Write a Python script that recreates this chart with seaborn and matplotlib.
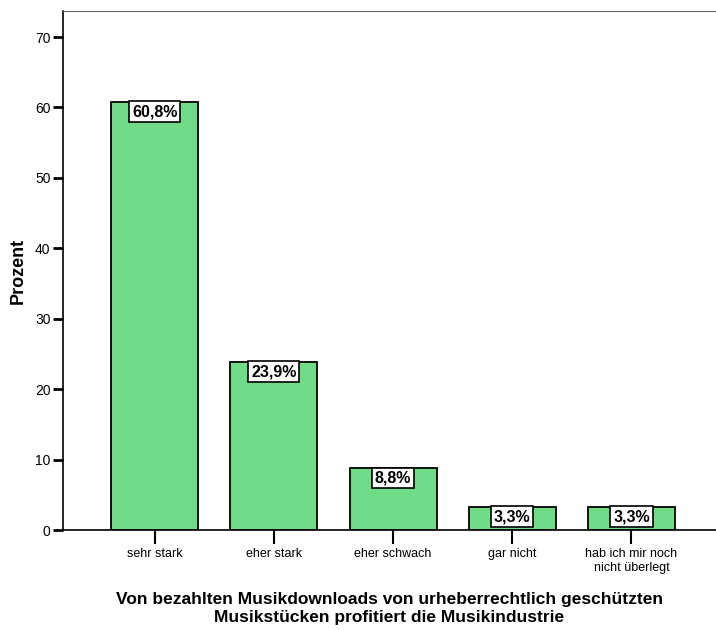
import pandas as pd
import matplotlib.pyplot as plt
import seaborn as sns

# -------------------------------
# Data
# -------------------------------

categories = [
    "sehr stark",
    "eher stark",
    "eher schwach",
    "gar nicht",
    "hab ich mir noch\nnicht überlegt",
]
percent = [60.8, 23.9, 8.8, 3.3, 3.3]
labels = ["60,8%", "23,9%", "8,8%", "3,3%", "3,3%"]

df = pd.DataFrame({"kategorie": categories, "prozent": percent})

# -------------------------------
# Plot
# -------------------------------

sns.set_style("white", {"text.color": "black", "axes.labelcolor": "black",
                        "xtick.color": "black", "ytick.color": "black"})
plt.rcParams['font.family'] = ['Liberation Sans', 'DejaVu Sans']

fig = plt.figure(figsize=(7.16, 6.3), dpi=100)
ax = fig.add_axes([63 / 716, 100 / 630, 1 - 63 / 716, (530 - 11) / 630])

sns.barplot(
    data=df,
    x="kategorie",
    y="prozent",
    color="#70DC88",
    saturation=1,
    width=0.73,
    edgecolor="black",
    linewidth=1.3,
    ax=ax,
)

# value boxes hanging from the top of each bar
for i, (val, lab) in enumerate(zip(percent, labels)):
    ax.text(
        i, val - 0.35, lab,
        ha="center", va="top", color="black",
        fontsize=11.5, fontweight="bold",
        bbox=dict(boxstyle="square,pad=0.18", facecolor="white",
                  edgecolor="black", linewidth=1.2),
    )

ax.set_xlim(-0.77, 4.71)
ax.set_ylim(0, 73.7)
ax.set_yticks(range(0, 71, 10))

ax.spines["right"].set_visible(False)
ax.spines["top"].set_color("#666666")
ax.spines["left"].set_color("black")
ax.spines["bottom"].set_color("black")
ax.spines["left"].set_linewidth(1.2)
ax.spines["bottom"].set_linewidth(1.2)

ax.tick_params(axis="y", direction="out", length=7, width=2,
               labelsize=10, colors="black", left=True, pad=2)
ax.tick_params(axis="x", direction="out", length=10, width=1.5,
               labelsize=9, colors="black", bottom=True, pad=3)

ax.set_ylabel("Prozent", fontsize=13, fontweight="bold", labelpad=6)
ax.set_xlabel(
    "Von bezahlten Musikdownloads von urheberrechtlich geschützten\n"
    "Musikstücken profitiert die Musikindustrie",
    fontsize=12.5, fontweight="bold", labelpad=13, linespacing=1.25,
)

plt.savefig("out.png", dpi=100)
